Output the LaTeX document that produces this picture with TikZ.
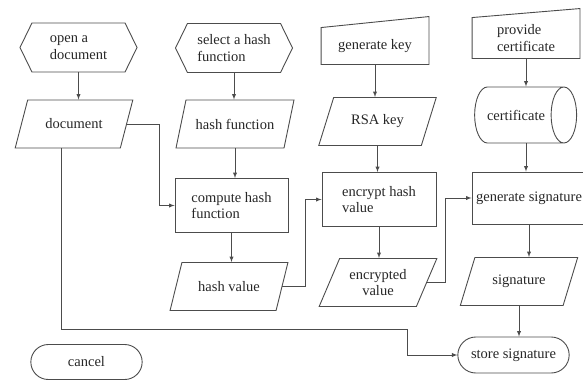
\documentclass[tikz,border=0pt]{standalone}
\usepackage{fontspec}
\setmainfont{Liberation Serif}
\newfontfamily\chartfont{Liberation Serif}
\usetikzlibrary{shapes.geometric,shapes.misc,shapes.symbols}

\begin{document}
\begin{tikzpicture}[x=1pt,y=-1pt,>=latex,color=black!70,line width=0.9pt]
\tikzstyle{every node}+=[font=\chartfont\fontsize{14.5}{16.5}\selectfont, text=black!85]
\tikzstyle{hexa}=[draw, shape=signal, signal to=west and east, signal pointer angle=128, minimum width=117, minimum height=49, align=left]
\tikzstyle{data}=[draw, trapezium, trapezium left angle=63, trapezium right angle=117, trapezium stretches=true, minimum width=118, minimum height=48, align=center]
\tikzstyle{proc}=[draw, rectangle, minimum height=54, align=left]
\tikzstyle{minput}=[rectangle, minimum width=107, minimum height=38, align=left]
\tikzstyle{stor}=[draw, cylinder, shape aspect=1.5, inner xsep=1pt, minimum width=56, minimum height=102]
\tikzstyle{term}=[draw, rounded rectangle, minimum width=118, minimum height=36]
\useasboundingbox (0,0) rectangle (583,381);
% column 1
\node [hexa] (open) at (78.5,47.5) {open a\\document};
\node [data] (doc) at (74,124) {document};
% column 2
\node [hexa] (select) at (234,48) {select a hash\\function};
\node [data] (hashf) at (235,124) {hash function};
\node [proc, minimum width=113] (compute) at (231.5,205.5) {compute hash\\function};
\node [data] (hashv) at (229,286.5) {hash value};
% column 3
\node [minput, minimum height=36] (genkey) at (375,46) {generate key};
\draw (genkey.south west) -- (genkey.north west) -- ([yshift=11pt]genkey.north east) -- (genkey.south east) -- cycle;
\node [data] (rsa) at (377.5,121.5) {RSA key};
\node [proc, minimum width=114] (encrypt) at (379,199.5) {encrypt hash\\value};
\node [data] (encval) at (378,282.5) {encrypted\\value};
% column 4
\node [minput, minimum height=40] (provide) at (526,38) {provide\\certificate};
\draw (provide.south west) -- (provide.north west) -- ([yshift=9pt]provide.north east) -- (provide.south east) -- cycle;
\node [stor] (cert) at (516,115) {certificate};
\node [proc, minimum width=114, minimum height=52] (gensig) at (529,198) {generate signature};
\node [data] (sig) at (519,281.5) {signature};
\node [term] (store) at (513.5,355) {store signature};
\node [term, minimum height=35] (cancel) at (86.5,362) {cancel};
\coordinate (bend) at (407,329);
% connectors
\draw [->] (open.south) -- (open.south |- doc.north);
\draw [->] (select.south) -- (select.south |- hashf.north);
\draw [->] (hashf.south) -- (hashf.south |- compute.north);
\draw [->] (compute.south) -- (compute.south |- hashv.north);
\draw [->] (genkey.south) -- (genkey.south |- rsa.north);
\draw [->] (rsa.south) -- (rsa.south |- encrypt.north);
\draw [->] (encrypt.south) -- (encrypt.south |- encval.north);
\draw [->] (provide.south) -- (provide.south |- cert.north);
\draw [->] (cert.south -| provide.south) -- (provide.south |- gensig.north);
\draw [->] (gensig.south) -- (gensig.south |- sig.north);
\draw [->] (sig.south) -- (sig.south |- store.north);
\draw [->] (doc.east) -- ++(32,0) |- (compute.west);
\draw [->] (hashv.east) -- ++(23,0) |- (encrypt.west);
\draw [->] (encval.east) -- ++(18,0) |- (gensig.west);
\draw [->] ([xshift=-13pt]doc.south) |- (bend) |- (store.west);
\end{tikzpicture}
\end{document}
